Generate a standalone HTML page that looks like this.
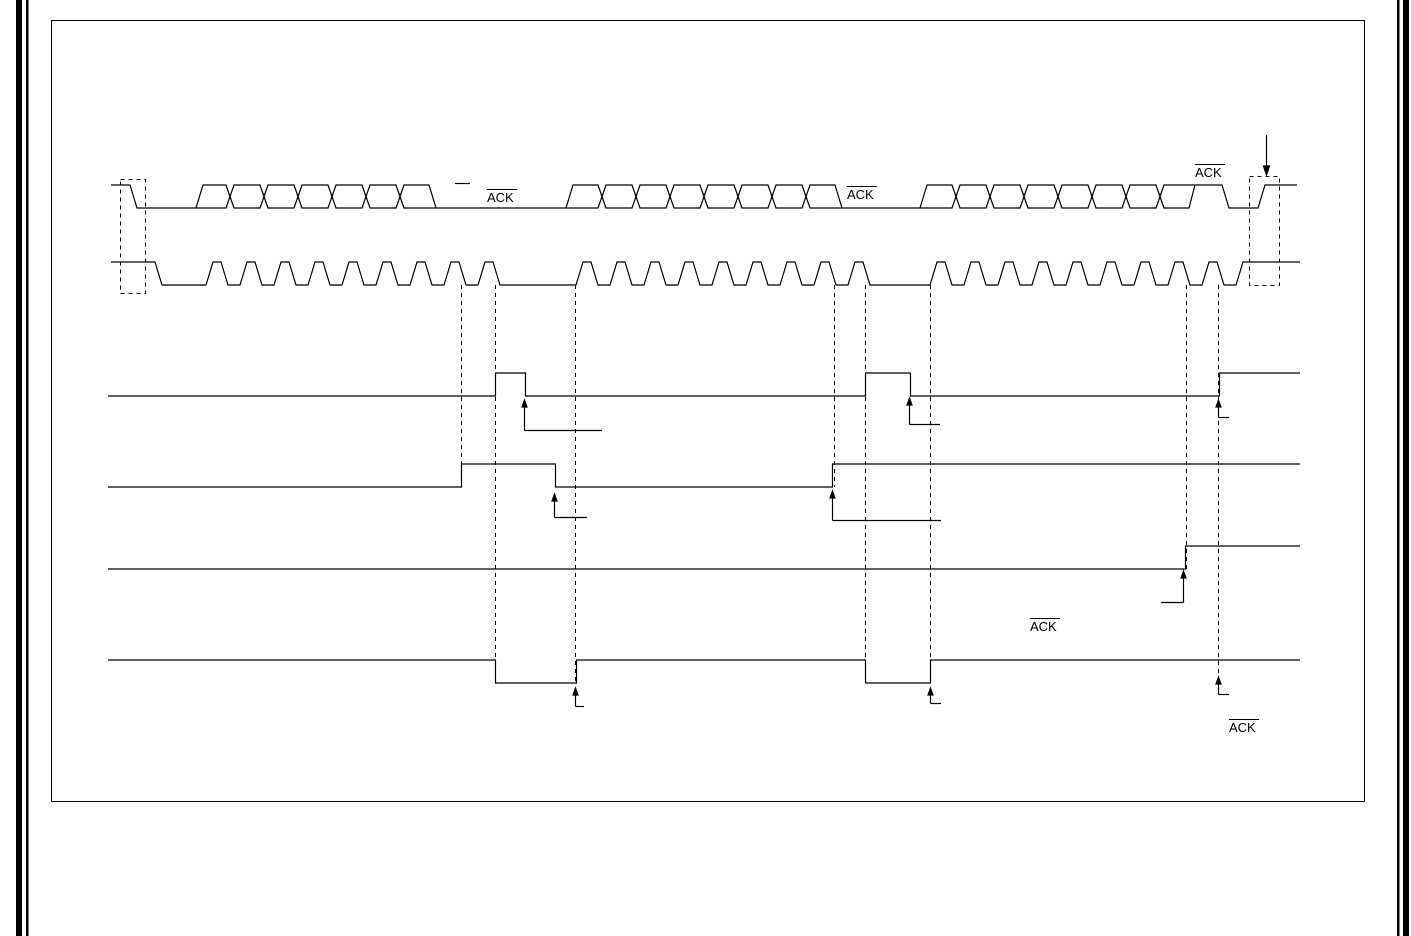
<!DOCTYPE html>
<html><head><meta charset="utf-8"><style>
html,body{margin:0;padding:0;background:#fff;}
svg{display:block;}
text{font-family:"Liberation Sans",sans-serif;font-size:13px;fill:#000;}
</style></head><body>
<svg id="s" width="1411" height="936" viewBox="0 0 1411 936" xmlns="http://www.w3.org/2000/svg">
<rect x="16" y="0" width="6" height="936" fill="#000"/>
<rect x="26" y="0" width="2.5" height="936" fill="#000"/>
<rect x="1397" y="0" width="2.5" height="936" fill="#000"/>
<rect x="1403" y="0" width="6" height="936" fill="#000"/>
<rect x="51.5" y="20.5" width="1313" height="781" fill="none" stroke="#000" stroke-width="1"/>
<g id="g" fill="none" stroke="#000" stroke-width="1.2"></g>
<g stroke="#000" stroke-width="1" stroke-dasharray="4,4" fill="none">
<rect x="120.5" y="179.5" width="25" height="114"/>
<rect x="1249.5" y="176.5" width="30" height="109"/>
<line x1="461.5" y1="285" x2="461.5" y2="487"/>
<line x1="495.5" y1="285" x2="495.5" y2="683"/>
<line x1="575.5" y1="285" x2="575.5" y2="683"/>
<line x1="834.5" y1="285" x2="834.5" y2="487"/>
<line x1="865.5" y1="285" x2="865.5" y2="683"/>
<line x1="930.5" y1="285" x2="930.5" y2="683"/>
<line x1="1186.5" y1="285" x2="1186.5" y2="569"/>
<line x1="1218.5" y1="285" x2="1218.5" y2="690"/>
</g>
<line x1="455" y1="183.5" x2="470" y2="183.5" stroke="#000" stroke-width="1.2"/>
<g>
<text x="487" y="202">ACK</text><line x1="487" y1="189.5" x2="517" y2="189.5" stroke="#000"/>
<text x="847" y="199">ACK</text><line x1="847" y1="186.5" x2="877" y2="186.5" stroke="#000"/>
<text x="1195" y="177">ACK</text><line x1="1195" y1="164.5" x2="1225" y2="164.5" stroke="#000"/>
<text x="1030" y="631">ACK</text><line x1="1030" y1="618.5" x2="1060" y2="618.5" stroke="#000"/>
<text x="1229" y="732">ACK</text><line x1="1229" y1="719.5" x2="1259" y2="719.5" stroke="#000"/>
</g>
</svg>
<script>
var g=document.getElementById('g');
function pl(pts){var p=document.createElementNS('http://www.w3.org/2000/svg','polyline');p.setAttribute('points',pts.map(function(a){return a[0]+','+a[1]}).join(' '));g.appendChild(p);}
function arrow(x,y1,y2,hx){pl([[x,y1],[x,y2+6]]);var p=document.createElementNS('http://www.w3.org/2000/svg','polygon');p.setAttribute('points',(x-2.5)+','+(y2+7)+' '+(x+2.5)+','+(y2+7)+' '+x+','+y2);p.setAttribute('fill','#000');g.appendChild(p);pl([[x,y1],[hx,y1]]);}
var H=185,L=208;
pl([[111,H],[130,H],[137,L],[196,L]]);
function byte(b){
 var top=[],bot=[];
 for(var i=0;i<b.length-1;i++){
  var a=b[i],c=b[i+1];
  if(i==0){bot.push([a,L]);top.push([a,L]);top.push([a+7,H]);}
  else{top.push([a+4,H]);bot.push([a+4,L]);}
  if(i<b.length-2){top.push([c-4,H]);bot.push([c-4,L]);top.push([c,(H+L)/2]);bot.push([c,(H+L)/2]);}
 }
 return [top,bot];
}
function drawByte(b){var r=byte(b);var last=b[b.length-1];
 r[0].push([last-7,H]);r[0].push([last,L]);r[1].push([last,L]);
 pl(r[0]);pl(r[1]);}
drawByte([196,230,264,298,332,366,400,436]);
pl([[436,L],[566,L]]);
drawByte([566,602,636,670,704,738,772,806,842]);
pl([[842,L],[920,L]]);
var r=byte([920,956,990,1024,1058,1092,1126,1160,1196]);
r[0].push([1222,H]);r[0].push([1229,L]);r[0].push([1258,L]);r[0].push([1265,H]);r[0].push([1297,H]);
r[1].push([1189,L]);r[1].push([1195,H]);
pl(r[0]);pl(r[1]);
pl([[1266.5,135],[1266.5,168]]);
var p=document.createElementNS('http://www.w3.org/2000/svg','polygon');p.setAttribute('points','1263.5,166 1269.5,166 1266.5,175');p.setAttribute('fill','#000');g.appendChild(p);
var SH=262,SL=285;
var pts=[[111,SH],[155,SH],[162,SL]];
function pulses(x0,n){for(var i=0;i<n;i++){var x=x0+i*34;pts.push([x,SL],[x+7,SH],[x+15,SH],[x+22,SL]);}}
pulses(206,9);pts.push([576,SL]);
pulses(576,9);pts.push([930,SL]);
pulses(930,9);pts.push([1236,SL],[1243,SH],[1300,SH]);
pl(pts);
pl([[108,396],[495.5,396],[495.5,373],[525.5,373],[525.5,396],[865.5,396],[865.5,373],[910.5,373],[910.5,396],[1219.5,396],[1219.5,373],[1300,373]]);
arrow(524.5,430.5,400,602);arrow(909.5,424.5,398,940);arrow(1218.5,417.5,400,1229);
pl([[108,487],[461.5,487],[461.5,464],[555.5,464],[555.5,487],[832.5,487],[832.5,464],[1300,464]]);
arrow(554.5,517.5,494,587);arrow(832.5,520.5,491,941);
pl([[108,569],[1185.5,569],[1185.5,546],[1300,546]]);
arrow(1183.5,602.5,571,1161);
pl([[108,660],[495.5,660],[495.5,683],[576.5,683],[576.5,660],[865.5,660],[865.5,683],[930.5,683],[930.5,660],[1300,660]]);
arrow(575.5,706.5,688,584);arrow(930.5,703.5,688,941);arrow(1218.5,694.5,677,1229);
</script>
</body></html>
